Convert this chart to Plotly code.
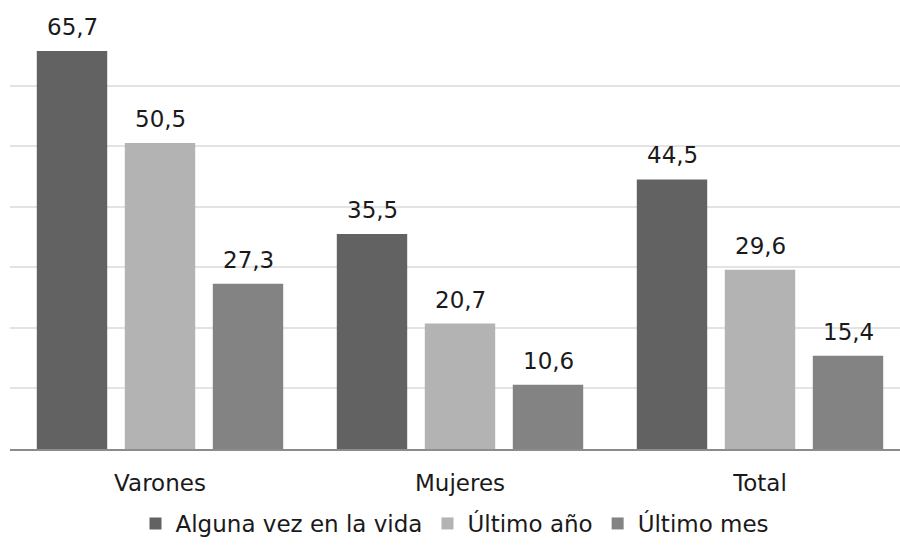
import plotly.graph_objects as go

categories = ["Varones", "Mujeres", "Total"]
series_names = ["Alguna vez en la vida", "Último año", "Último mes"]
alguna_vez = [65.7, 35.5, 44.5]
ultimo_anio = [50.5, 20.7, 29.6]
ultimo_mes = [27.3, 10.6, 15.4]
colors = ["#626262", "#b3b3b3", "#838383"]

series_values = [alguna_vez, ultimo_anio, ultimo_mes]
FONT = "DejaVu Sans"
TEXT = "#1a1a1a"
FSIZE = 23

BARGAP = 0.12
slot = (1 - BARGAP) / len(series_values)

x_idx = list(range(len(categories)))

fig = go.Figure()
for name, vals, col in zip(series_names, series_values, colors):
    fig.add_trace(go.Bar(
        x=x_idx, y=vals, name=name,
        marker=dict(color=col, line=dict(width=0)),
        hoverinfo="skip",
    ))

def fmt(v):
    return f"{v:.1f}".replace(".", ",")

annotations = []
for j, vals in enumerate(series_values):
    off = (j - (len(series_values) - 1) / 2) * slot
    for i, v in enumerate(vals):
        annotations.append(dict(
            x=i + off, y=v, xref="x", yref="y",
            text=fmt(v), showarrow=False,
            yanchor="bottom", xanchor="center", yshift=9,
            font=dict(family=FONT, size=FSIZE, color=TEXT),
        ))

fig.update_layout(
    width=900, height=546,
    margin=dict(l=10, r=0, t=25, b=97, autoexpand=False),
    paper_bgcolor="white", plot_bgcolor="white",
    barmode="group", bargap=BARGAP, bargroupgap=0.2,
    font=dict(family=FONT, size=FSIZE, color=TEXT),
    showlegend=True,
    legend=dict(
        orientation="h", x=0.5, xanchor="center",
        y=-0.125, yanchor="top",
        font=dict(family=FONT, size=FSIZE, color=TEXT),
        itemwidth=30, traceorder="normal",
    ),
    annotations=annotations,
)

fig.update_xaxes(
    range=[-0.5, 2.5 - 10 / 300],
    tickmode="array", tickvals=x_idx, ticktext=categories,
    showgrid=False, zeroline=False,
    showline=True, linecolor="#8c8c8c", linewidth=2,
    ticks="", ticklabelstandoff=12,
    tickfont=dict(family=FONT, size=FSIZE, color=TEXT),
)
fig.update_yaxes(
    range=[0, 70], dtick=10,
    showgrid=True, gridcolor="#e3e3e3", gridwidth=1.5,
    zeroline=False, showticklabels=False, ticks="",
)

fig.write_html("out.html")
